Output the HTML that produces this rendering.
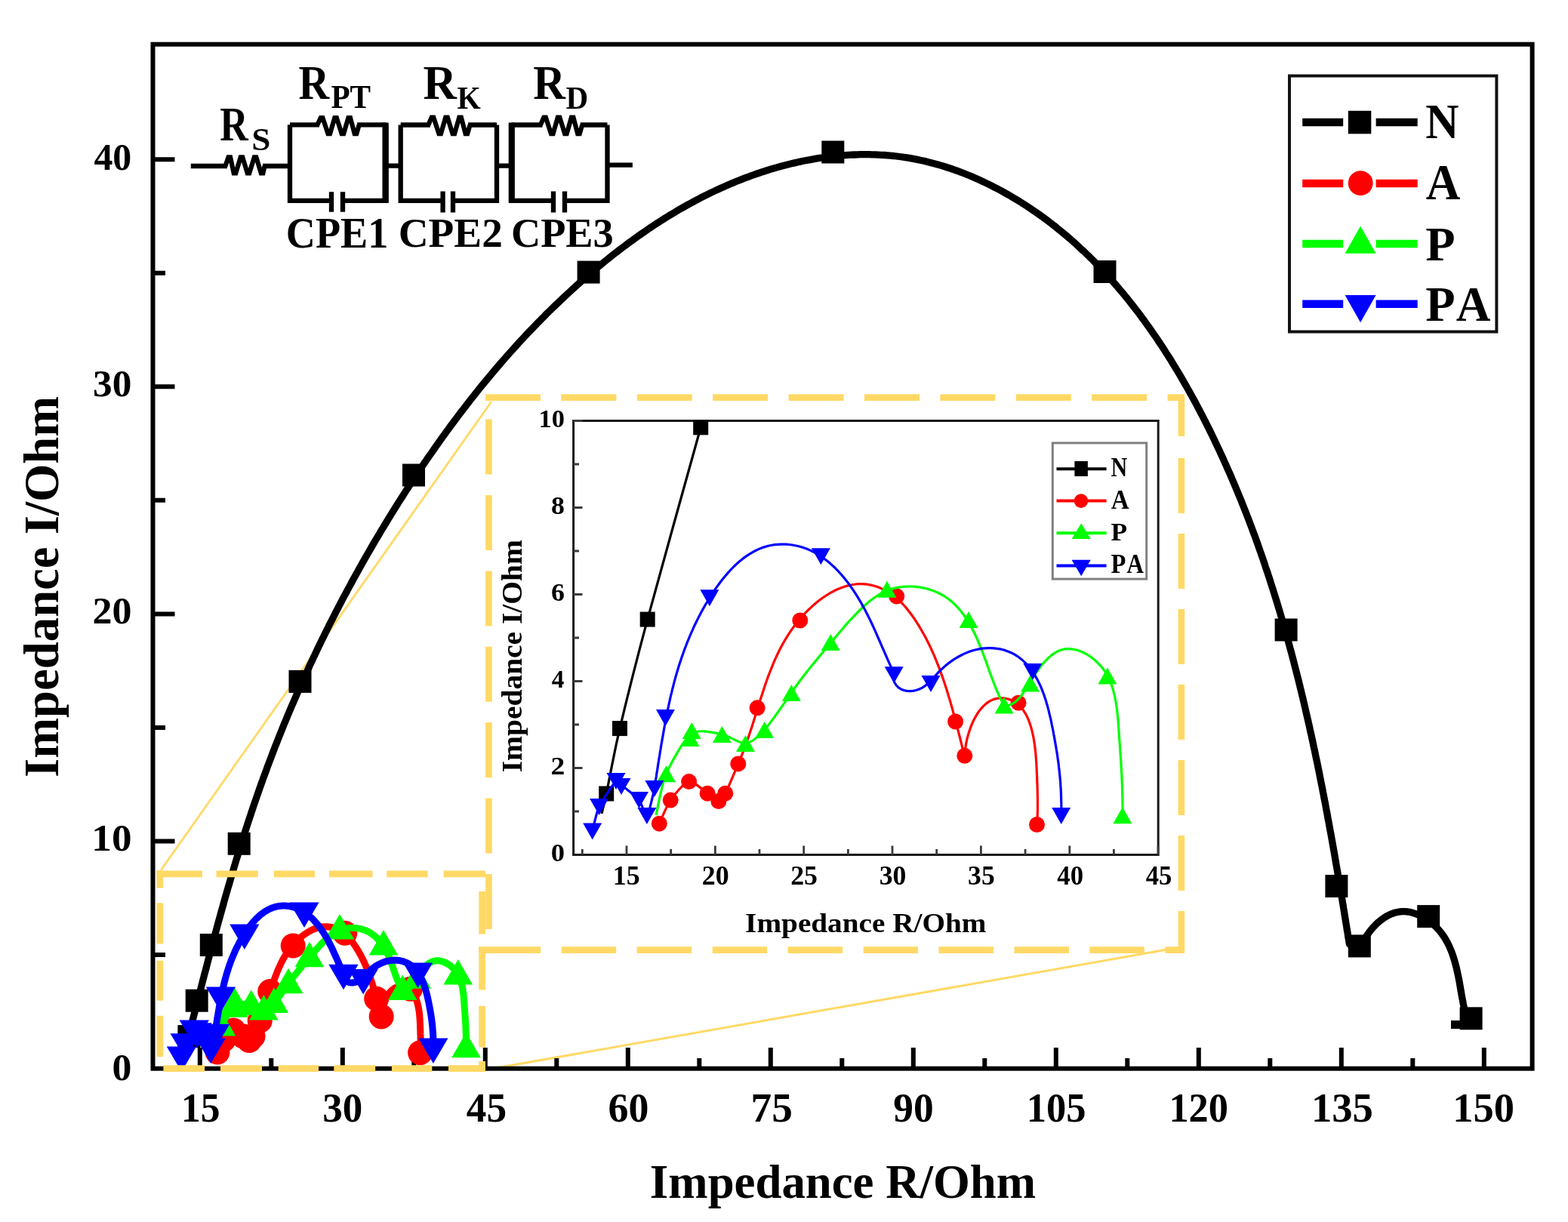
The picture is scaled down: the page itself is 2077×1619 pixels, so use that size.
<!DOCTYPE html><html><head><meta charset="utf-8"><style>html,body{margin:0;padding:0;background:#fff;}svg{display:block;} text{font-family:"Liberation Serif","Times New Roman",serif;font-weight:bold;}</style></head><body>
<svg width="2077" height="1619" viewBox="0 0 2077 1619">
<rect width="2077" height="1619" fill="#fff"/>
<line x1="213" y1="1153" x2="651" y2="532" stroke="#FFD966" stroke-width="2.8"/>
<line x1="640" y1="1418" x2="1563" y2="1255" stroke="#FFD966" stroke-width="3"/>
<rect x="202.5" y="58.7" width="1827.1" height="1357" fill="none" stroke="#000" stroke-width="6"/>
<path d="M264.8,1415.7V1388 M453.8,1415.7V1388 M642.8,1415.7V1388 M831.8,1415.7V1388 M1020.8,1415.7V1388 M1209.8,1415.7V1388 M1398.8,1415.7V1388 M1587.8,1415.7V1388 M1776.8,1415.7V1388 M1965.8,1415.7V1388 M359.3,1415.7V1402 M548.3,1415.7V1402 M737.3,1415.7V1402 M926.3,1415.7V1402 M1115.3,1415.7V1402 M1304.3,1415.7V1402 M1493.3,1415.7V1402 M1682.3,1415.7V1402 M1871.3,1415.7V1402 M202.5,1114.5H231.5 M202.5,813.4H231.5 M202.5,512.3H231.5 M202.5,211.2H231.5 M202.5,1265H219 M202.5,963.9H219 M202.5,662.8H219 M202.5,361.8H219" stroke="#000" stroke-width="6" fill="none"/>
<text transform="translate(239.98,1485.80) scale(0.9277,1)" font-size="55.45">15</text>
<text transform="translate(427.31,1485.80) scale(0.9645,1)" font-size="55.04">30</text>
<text transform="translate(617.83,1485.80) scale(0.9568,1)" font-size="55.67">45</text>
<text transform="translate(805.51,1485.80) scale(0.9795,1)" font-size="55.04">60</text>
<text transform="translate(994.52,1485.80) scale(0.9887,1)" font-size="55.88">75</text>
<text transform="translate(1183.33,1485.80) scale(0.9716,1)" font-size="55.04">90</text>
<text transform="translate(1359.70,1485.80) scale(0.9541,1)" font-size="55.04">105</text>
<text transform="translate(1548.40,1485.80) scale(0.9528,1)" font-size="55.04">120</text>
<text transform="translate(1736.93,1485.80) scale(0.9885,1)" font-size="55.25">135</text>
<text transform="translate(1924.14,1485.80) scale(0.9909,1)" font-size="55.04">150</text>
<text transform="translate(124.38,224.90) scale(0.9779,1)" font-size="51.13">40</text>
<text transform="translate(123.07,525.40) scale(1.0044,1)" font-size="51.13">30</text>
<text transform="translate(122.39,825.90) scale(1.0183,1)" font-size="51.13">20</text>
<text transform="translate(121.35,1127.00) scale(1.0394,1)" font-size="51.13">10</text>
<text transform="translate(148.56,1430.90) scale(1.0125,1)" font-size="51.13">0</text>
<text transform="translate(860.86,1586.80) scale(0.9991,1)" font-size="62.88">Impedance R/Ohm</text>
<text transform="translate(77.10,1030.00) rotate(-90) scale(0.9996,1)" font-size="64.75">Impedance I/Ohm</text>
<path d="M245.9,1388.1 L246.9,1384.2 L247.9,1380.3 L248.9,1376.4 L249.9,1372.5 L250.9,1368.6 L251.9,1364.7 L252.9,1360.8 L253.8,1357 L254.8,1353.1 L255.8,1349.2 L256.8,1345.3 L257.8,1341.4 L258.8,1337.5 L259.8,1333.6 L260.8,1329.7 L261.8,1325.9 L262.8,1322 L263.8,1318.1 L264.8,1314.2 L265.8,1310.3 L266.8,1306.4 L267.8,1302.6 L268.8,1298.7 L269.8,1294.8 L270.8,1290.9 L271.9,1287 L272.9,1283.2 L273.9,1279.3 L274.9,1275.4 L275.9,1271.5 L277,1267.6 L278,1263.8 L279,1259.9 L280,1256 L281.1,1252.2 L282.1,1248.3 L283.1,1244.4 L284.2,1240.6 L285.2,1236.7 L286.3,1232.8 L287.3,1229 L288.4,1225.1 L289.4,1221.2 L290.5,1217.4 L291.6,1213.5 L292.6,1209.7 L293.7,1205.8 L294.8,1201.9 L295.9,1198.1 L296.9,1194.2 L298,1190.4 L299.1,1186.5 L300.2,1182.7 L301.3,1178.8 L302.4,1175 L303.6,1171.2 L304.7,1167.3 L305.8,1163.5 L306.9,1159.6 L308.1,1155.8 L309.2,1152 L310.3,1148.1 L311.5,1144.3 L312.6,1140.5 L313.8,1136.6 L315,1132.8 L316.1,1129 L317.3,1125.2 L318.5,1121.4 L319.7,1117.5 L320.9,1113.7 L322.1,1109.9 L323.3,1106.1 L324.5,1102.3 L325.7,1098.5 L327,1094.7 L328.2,1090.9 L329.5,1087.1 L330.7,1083.3 L332,1079.5 L333.2,1075.7 L334.5,1071.9 L335.8,1068.1 L337.1,1064.3 L338.4,1060.5 L339.7,1056.7 L341,1053 L342.3,1049.2 L343.6,1045.4 L345,1041.6 L346.3,1037.9 L347.7,1034.1 L349,1030.3 L350.4,1026.6 L351.8,1022.8 L353.2,1019.1 L354.5,1015.3 L355.9,1011.6 L357.4,1007.8 L358.8,1004.1 L360.2,1000.3 L361.6,996.6 L363.1,992.8 L364.5,989.1 L366,985.4 L367.5,981.6 L368.9,977.9 L370.4,974.2 L371.9,970.5 L373.4,966.8 L374.9,963 L376.4,959.3 L378,955.6 L379.5,951.9 L381,948.2 L382.6,944.5 L384.1,940.8 L385.7,937.1 L387.3,933.4 L388.9,929.8 L390.5,926.1 L392.1,922.4 L393.7,918.7 L395.3,915 L396.9,911.4 L398.5,907.7 L400.2,904 L401.8,900.4 L403.5,896.7 L405.1,893.1 L406.8,889.4 L408.5,885.8 L410.1,882.1 L411.8,878.5 L413.5,874.9 L415.2,871.2 L417,867.6 L418.7,864 L420.4,860.3 L422.1,856.7 L423.9,853.1 L425.6,849.5 L427.4,845.9 L429.2,842.3 L430.9,838.7 L432.7,835.1 L434.5,831.5 L436.3,827.9 L438.1,824.3 L439.9,820.8 L441.8,817.2 L443.6,813.6 L445.4,810 L447.3,806.5 L449.1,802.9 L451,799.4 L452.8,795.8 L454.7,792.2 L456.6,788.7 L458.5,785.2 L460.4,781.6 L462.3,778.1 L464.2,774.6 L466.1,771 L468,767.5 L470,764 L471.9,760.5 L473.9,757 L475.8,753.5 L477.8,750 L479.7,746.5 L481.7,743 L483.7,739.5 L485.7,736 L487.7,732.5 L489.7,729.1 L491.7,725.6 L493.7,722.1 L495.7,718.7 L497.8,715.2 L499.8,711.8 L501.9,708.3 L503.9,704.9 L506,701.4 L508.1,698 L510.1,694.6 L512.2,691.2 L514.3,687.7 L516.4,684.3 L518.5,680.9 L520.6,677.5 L522.7,674.1 L524.8,670.7 L527,667.3 L529.1,663.9 L531.3,660.5 L533.4,657.2 L535.6,653.8 L537.7,650.4 L539.9,647.1 L542.1,643.7 L544.3,640.4 L546.5,637 L548.7,633.7 L550.9,630.3 L553.1,627 L555.3,623.7 L557.5,620.4 L559.8,617 L562,613.7 L564.3,610.4 L566.5,607.1 L568.8,603.8 L571.1,600.6 L573.4,597.3 L575.7,594 L578,590.7 L580.3,587.5 L582.6,584.2 L584.9,581 L587.2,577.7 L589.6,574.5 L591.9,571.2 L594.3,568 L596.6,564.8 L599,561.6 L601.4,558.4 L603.8,555.2 L606.2,552 L608.6,548.8 L611,545.6 L613.4,542.5 L615.9,539.3 L618.3,536.1 L620.8,533 L623.2,529.8 L625.7,526.7 L628.2,523.6 L630.6,520.4 L633.1,517.3 L635.6,514.2 L638.2,511.1 L640.7,508 L643.2,504.9 L645.8,501.9 L648.3,498.8 L650.9,495.7 L653.4,492.7 L656,489.6 L658.6,486.6 L661.2,483.6 L663.8,480.5 L666.4,477.5 L669.1,474.5 L671.7,471.5 L674.3,468.5 L677,465.5 L679.7,462.6 L682.4,459.6 L685,456.6 L687.7,453.7 L690.5,450.7 L693.2,447.8 L695.9,444.9 L698.6,442 L701.4,439.1 L704.2,436.2 L706.9,433.3 L709.7,430.4 L712.5,427.5 L715.3,424.7 L718.1,421.8 L721,419 L723.8,416.1 L726.6,413.3 L729.5,410.5 L732.4,407.7 L735.3,404.9 L738.2,402.1 L741.1,399.3 L744,396.6 L746.9,393.8 L749.8,391.1 L752.8,388.3 L755.8,385.6 L758.7,382.9 L761.7,380.2 L764.7,377.5 L767.7,374.8 L770.7,372.1 L773.8,369.4 L776.8,366.8 L779.9,364.2 L782.9,361.5 L786,358.9 L789.1,356.3 L792.2,353.7 L795.3,351.1 L798.4,348.6 L801.6,346 L804.7,343.5 L807.9,341 L811,338.4 L814.2,335.9 L817.4,333.5 L820.6,331 L823.8,328.6 L827.1,326.1 L830.3,323.7 L833.5,321.3 L836.8,318.9 L840.1,316.6 L843.3,314.2 L846.6,311.9 L849.9,309.6 L853.3,307.3 L856.6,305 L859.9,302.7 L863.3,300.5 L866.6,298.2 L870,296 L873.4,293.9 L876.8,291.7 L880.2,289.5 L883.6,287.4 L887,285.3 L890.5,283.2 L893.9,281.2 L897.4,279.1 L900.8,277.1 L904.3,275.1 L907.8,273.1 L911.3,271.2 L914.8,269.2 L918.3,267.3 L921.9,265.4 L925.4,263.6 L929,261.7 L932.5,259.9 L936.1,258.1 L939.7,256.3 L943.3,254.6 L946.9,252.9 L950.5,251.2 L954.2,249.5 L957.8,247.9 L961.5,246.3 L965.1,244.7 L968.8,243.1 L972.5,241.6 L976.2,240 L979.9,238.6 L983.6,237.1 L987.3,235.7 L991.1,234.3 L994.8,232.9 L998.6,231.6 L1002.3,230.2 L1006.1,229 L1009.9,227.7 L1013.7,226.5 L1017.5,225.3 L1021.3,224.1 L1025.2,223 L1029,221.9 L1032.9,220.8 L1036.7,219.7 L1040.6,218.7 L1044.5,217.7 L1048.4,216.8 L1052.3,215.9 L1056.2,215 L1060.1,214.1 L1064,213.3 L1068,212.5 L1071.9,211.8 L1075.9,211.1 L1079.8,210.4 L1083.8,209.7 L1087.7,209.1 L1091.7,208.6 L1095.7,208 L1099.7,207.5 L1103.6,207.1 L1107.6,206.7 L1111.6,206.3 L1115.6,205.9 L1119.6,205.6 L1123.6,205.4 L1127.6,205.2 L1131.6,205 L1135.6,204.8 L1139.6,204.7 L1143.6,204.7 L1147.6,204.7 L1151.6,204.7 L1155.6,204.8 L1159.6,204.9 L1163.6,205.1 L1167.5,205.3 L1171.5,205.5 L1175.5,205.8 L1179.5,206.2 L1183.4,206.5 L1187.4,207 L1191.4,207.5 L1195.3,208 L1199.3,208.6 L1203.2,209.2 L1207.1,209.9 L1211.1,210.6 L1215,211.4 L1218.9,212.2 L1222.8,213 L1226.7,213.9 L1230.6,214.9 L1234.5,215.9 L1238.3,216.9 L1242.2,218 L1246,219.1 L1249.9,220.3 L1253.7,221.5 L1257.5,222.7 L1261.3,224 L1265.1,225.3 L1268.9,226.7 L1272.6,228.1 L1276.4,229.5 L1280.1,231 L1283.9,232.5 L1287.6,234.1 L1291.3,235.7 L1294.9,237.3 L1298.6,239 L1302.3,240.7 L1305.9,242.4 L1309.5,244.1 L1313.1,245.9 L1316.7,247.8 L1320.3,249.6 L1323.9,251.5 L1327.4,253.4 L1330.9,255.4 L1334.4,257.3 L1337.9,259.3 L1341.4,261.4 L1344.8,263.4 L1348.3,265.5 L1351.7,267.6 L1355.1,269.8 L1358.4,271.9 L1361.8,274.1 L1365.1,276.3 L1368.4,278.6 L1371.7,280.8 L1375,283.1 L1378.2,285.4 L1381.5,287.8 L1384.7,290.1 L1387.9,292.5 L1391,294.9 L1394.2,297.4 L1397.3,299.8 L1400.4,302.3 L1403.5,304.8 L1406.6,307.3 L1409.7,309.9 L1412.7,312.4 L1415.7,315 L1418.7,317.6 L1421.7,320.2 L1424.7,322.9 L1427.6,325.6 L1430.5,328.3 L1433.4,331 L1436.3,333.7 L1439.2,336.5 L1442.1,339.2 L1444.9,342 L1447.7,344.8 L1450.5,347.6 L1453.3,350.5 L1456.1,353.4 L1458.8,356.2 L1461.5,359.1 L1464.2,362.1 L1466.9,365 L1469.6,368 L1472.3,370.9 L1474.9,373.9 L1477.5,376.9 L1480.2,379.9 L1482.7,383 L1485.3,386 L1487.9,389.1 L1490.4,392.2 L1493,395.3 L1495.5,398.4 L1498,401.6 L1500.4,404.7 L1502.9,407.9 L1505.3,411 L1507.8,414.2 L1510.2,417.4 L1512.6,420.7 L1515,423.9 L1517.3,427.1 L1519.7,430.4 L1522,433.7 L1524.3,437 L1526.6,440.3 L1528.9,443.6 L1531.2,446.9 L1533.5,450.2 L1535.7,453.6 L1537.9,456.9 L1540.2,460.3 L1542.4,463.7 L1544.5,467.1 L1546.7,470.5 L1548.9,473.9 L1551,477.3 L1553.1,480.8 L1555.2,484.2 L1557.3,487.7 L1559.4,491.1 L1561.5,494.6 L1563.6,498.1 L1565.6,501.6 L1567.6,505.1 L1569.6,508.6 L1571.7,512.1 L1573.6,515.6 L1575.6,519.1 L1577.6,522.7 L1579.5,526.2 L1581.5,529.8 L1583.4,533.3 L1585.3,536.9 L1587.2,540.5 L1589.1,544 L1590.9,547.6 L1592.8,551.2 L1594.7,554.8 L1596.5,558.4 L1598.3,562 L1600.1,565.6 L1601.9,569.2 L1603.7,572.9 L1605.5,576.5 L1607.2,580.1 L1609,583.8 L1610.7,587.4 L1612.4,591 L1614.2,594.7 L1615.9,598.3 L1617.5,602 L1619.2,605.6 L1620.9,609.3 L1622.5,613 L1624.2,616.6 L1625.8,620.3 L1627.4,624 L1629.1,627.6 L1630.7,631.3 L1632.2,635 L1633.8,638.7 L1635.4,642.4 L1636.9,646.1 L1638.5,649.8 L1640,653.5 L1641.5,657.2 L1643.1,660.9 L1644.6,664.6 L1646,668.3 L1647.5,672 L1649,675.8 L1650.5,679.5 L1651.9,683.2 L1653.4,686.9 L1654.8,690.7 L1656.2,694.4 L1657.6,698.2 L1659,701.9 L1660.4,705.7 L1661.8,709.4 L1663.2,713.2 L1664.5,716.9 L1665.9,720.7 L1667.2,724.4 L1668.5,728.2 L1669.9,732 L1671.2,735.8 L1672.5,739.5 L1673.8,743.3 L1675.1,747.1 L1676.3,750.9 L1677.6,754.7 L1678.9,758.4 L1680.1,762.2 L1681.4,766 L1682.6,769.8 L1683.8,773.6 L1685,777.4 L1686.3,781.2 L1687.4,785 L1688.6,788.9 L1689.8,792.7 L1691,796.5 L1692.2,800.3 L1693.3,804.1 L1694.5,808 L1695.6,811.8 L1696.7,815.6 L1697.9,819.4 L1699,823.3 L1700.1,827.1 L1701.2,831 L1702.3,834.8 L1703.4,838.6 L1704.4,842.5 L1705.5,846.3 L1706.6,850.2 L1707.6,854 L1708.7,857.9 L1709.7,861.7 L1710.8,865.6 L1711.8,869.5 L1712.8,873.3 L1713.8,877.2 L1714.8,881.1 L1715.8,884.9 L1716.8,888.8 L1717.8,892.7 L1718.8,896.6 L1719.8,900.4 L1720.7,904.3 L1721.7,908.2 L1722.6,912.1 L1723.6,916 L1724.5,919.9 L1725.5,923.7 L1726.4,927.6 L1727.3,931.5 L1728.2,935.4 L1729.1,939.3 L1730,943.2 L1730.9,947.1 L1731.8,951 L1732.7,954.9 L1733.6,958.8 L1734.5,962.7 L1735.3,966.7 L1736.2,970.6 L1737.1,974.5 L1737.9,978.4 L1738.8,982.3 L1739.6,986.2 L1740.4,990.1 L1741.3,994.1 L1742.1,998 L1742.9,1001.9 L1743.7,1005.8 L1744.6,1009.8 L1745.4,1013.7 L1746.2,1017.6 L1747,1021.5 L1747.8,1025.5 L1748.5,1029.4 L1749.3,1033.3 L1750.1,1037.3 L1750.9,1041.2 L1751.7,1045.1 L1752.4,1049.1 L1753.2,1053 L1753.9,1057 L1754.7,1060.9 L1755.5,1064.8 L1756.2,1068.8 L1756.9,1072.7 L1757.7,1076.7 L1758.4,1080.6 L1759.1,1084.6 L1759.9,1088.5 L1760.6,1092.5 L1761.3,1096.4 L1762,1100.4 L1762.8,1104.3 L1763.5,1108.3 L1764.2,1112.2 L1764.9,1116.2 L1765.6,1120.1 L1766.3,1124.1 L1767,1128 L1767.7,1132 L1768.4,1135.9 L1769,1139.9 L1769.7,1143.9 L1770.4,1147.8 L1771.1,1151.8 L1771.8,1155.7 L1772.4,1159.7 L1773.1,1163.7 L1773.8,1167.6 L1774.4,1171.6 L1775.1,1175.6 L1775.8,1179.5 L1776.4,1183.5 L1777.1,1187.4 L1777.8,1191.4 L1778.4,1195.4 L1779.1,1199.3 L1779.7,1203.3 L1780.4,1207.3 L1781,1211.2 L1781.7,1215.2 L1782.3,1219.2 L1782.9,1223.1 L1783.6,1227.1 L1784.2,1231.1 L1784.9,1235 L1785.5,1239 L1786.1,1243 L1786.8,1246.9 L1787.4,1250.9 L1800,1256 L1801.1,1257 L1802.7,1253.3 L1804.5,1249.6 L1806.5,1245.9 L1808.7,1242.2 L1811,1238.7 L1813.5,1235.2 L1816.2,1231.8 L1819,1228.5 L1822,1225.4 L1825.1,1222.4 L1828.3,1219.7 L1831.7,1217.2 L1835.1,1214.9 L1838.6,1212.9 L1842.2,1211.2 L1845.9,1209.8 L1849.6,1208.7 L1853.4,1208 L1857.3,1207.7 L1861.1,1207.7 L1865,1208 L1868.9,1208.7 L1872.7,1209.8 L1876.5,1211.1 L1880.3,1212.6 L1884,1214.5 L1887.6,1216.5 L1891.1,1218.8 L1894.5,1221.3 L1897.8,1224 L1900.9,1226.8 L1903.8,1229.8 L1906.6,1232.9 L1909.2,1236.1 L1911.6,1239.4 L1913.9,1242.9 L1915.9,1246.4 L1917.9,1250 L1919.7,1253.7 L1921.3,1257.5 L1922.9,1261.3 L1924.3,1265.2 L1925.6,1269.2 L1926.8,1273.1 L1927.9,1277.2 L1929,1281.3 L1929.9,1285.3 L1930.8,1289.5 L1931.7,1293.6 L1932.5,1297.7 L1933.3,1301.8 L1934,1306 L1934.7,1310.1 L1935.4,1314.1 L1936.1,1318.2 L1936.8,1322.2 L1937.6,1326.2 L1938.3,1330.1 L1939.1,1333.9 L1939.9,1337.7 L1940.8,1341.5" stroke="#000" stroke-width="9.3" fill="none" stroke-linejoin="round"/>
<rect x="235.4" y="1358.1" width="30" height="30" fill="#000"/>
<rect x="245.7" y="1310.7" width="30" height="30" fill="#000"/>
<rect x="264.8" y="1237" width="30" height="30" fill="#000"/>
<rect x="301.7" y="1102.8" width="30" height="30" fill="#000"/>
<rect x="382.5" y="887.9" width="30" height="30" fill="#000"/>
<rect x="533" y="614.5" width="30" height="30" fill="#000"/>
<rect x="764.6" y="345.6" width="30" height="30" fill="#000"/>
<rect x="1088.3" y="186.5" width="30" height="30" fill="#000"/>
<rect x="1448.5" y="345" width="30" height="30" fill="#000"/>
<rect x="1688.6" y="819.5" width="30" height="30" fill="#000"/>
<rect x="1755.4" y="1159" width="30" height="30" fill="#000"/>
<rect x="1785.8" y="1238.4" width="30" height="30" fill="#000"/>
<rect x="1877.2" y="1199.1" width="30" height="30" fill="#000"/>
<rect x="1933.6" y="1334.3" width="30" height="30" fill="#000"/>
<rect x="1922" y="1352" width="26" height="11" fill="#000"/>
<path d="M288,1394 C289.1,1391.8 293.2,1381.6 296,1377.7 C298.9,1373.8 305.6,1365.5 309.1,1364.9 C312.6,1364.2 319.5,1371.2 322.3,1373 C325.1,1374.8 328.6,1378.5 330.2,1378.5 C331.9,1378.5 333.2,1376.5 335,1373 C336.9,1369.6 342.9,1355.2 344.2,1352.4 L344.1,1352.5 L345.8,1348.7 L347.3,1344.9 L348.8,1341 L350.2,1337.2 L351.6,1333.3 L352.9,1329.4 L354.2,1325.5 L355.5,1321.6 L356.8,1317.7 L358,1313.8 L359.3,1309.9 L360.5,1306 L361.8,1302.2 L363.2,1298.3 L364.5,1294.5 L366,1290.7 L367.4,1287 L369,1283.2 L370.7,1279.6 L372.4,1275.9 L374.2,1272.3 L376.2,1268.8 L378.3,1265.3 L380.5,1261.9 L382.9,1258.5 L385.4,1255.2 L388.1,1252 L390.9,1248.9 L393.9,1245.8 L397,1242.9 L400.3,1240.2 L403.7,1237.7 L407.2,1235.4 L410.8,1233.3 L414.4,1231.5 L418.2,1230 L421.9,1228.9 L425.8,1228.1 L429.6,1227.7 L433.4,1227.7 L437.3,1228.2 L441.1,1229 L444.9,1230.3 L448.5,1232 L452,1234 L455.3,1236.3 L458.5,1239 L461.4,1241.9 L464.2,1245 L466.8,1248.2 L469.3,1251.6 L471.6,1255.1 L473.8,1258.6 L475.9,1262.2 L477.9,1265.8 L479.8,1269.5 L481.6,1273.2 L483.3,1276.9 L485,1280.7 L486.5,1284.5 L488,1288.3 L489.4,1292.1 L490.7,1295.9 L492,1299.8 L493.3,1303.6 L494.4,1307.5 L495.6,1311.4 L496.7,1315.2 L497.8,1319.2 L498.9,1323.1 L499.9,1327 L501,1331 L502,1334.9 L503,1338.9 L504.1,1342.9 L505.2,1346.9 L505.4,1346.9 L505.5,1343.3 L506,1339.4 L506.9,1335.2 L508.2,1330.8 L509.8,1326.4 L511.7,1322.1 L514,1318.1 L516.6,1314.5 L519.6,1311.5 L522.8,1309.1 L526.4,1307.5 L530.2,1306.9 L534,1307 L537.8,1308 L541.3,1309.8 L544.4,1312.2 L547,1315.3 L549.2,1318.9 L551,1323 L552.4,1327.2 L553.6,1331.6 L554.5,1336 L555.2,1340.4 L555.7,1344.6 L556,1348.8 L556.3,1352.9 L556.5,1357 L556.6,1361.1 L556.8,1365.3 L556.9,1369.4 L557.1,1373.5 L557.1,1377.7 L557.1,1381.9 L557.1,1386.1 L556.9,1390.4 L556.6,1394.7" stroke="#FF0000" stroke-width="9" fill="none" stroke-linejoin="round" stroke-linecap="round"/>
<circle cx="288" cy="1394" r="16.5" fill="#FF0000"/>
<circle cx="296" cy="1377.7" r="16.5" fill="#FF0000"/>
<circle cx="309.1" cy="1364.9" r="16.5" fill="#FF0000"/>
<circle cx="322.3" cy="1373" r="16.5" fill="#FF0000"/>
<circle cx="330.2" cy="1378.5" r="16.5" fill="#FF0000"/>
<circle cx="335" cy="1373" r="16.5" fill="#FF0000"/>
<circle cx="344.2" cy="1352.4" r="16.5" fill="#FF0000"/>
<circle cx="357.7" cy="1313.6" r="16.5" fill="#FF0000"/>
<circle cx="388.2" cy="1253" r="16.5" fill="#FF0000"/>
<circle cx="456.8" cy="1236.2" r="16.5" fill="#FF0000"/>
<circle cx="498.7" cy="1323.2" r="16.5" fill="#FF0000"/>
<circle cx="505.2" cy="1346.9" r="16.5" fill="#FF0000"/>
<circle cx="543.5" cy="1310.2" r="16.5" fill="#FF0000"/>
<circle cx="556.6" cy="1394.7" r="16.5" fill="#FF0000"/>
<path d="M285.7,1388.1 C286.7,1384.3 289.6,1366.9 293,1359.4 C296.4,1351.9 305.7,1335.2 311,1331.5 C316.3,1327.9 327.5,1331.2 332.7,1332.1 C337.8,1333 345.3,1338.8 349.4,1338.4 C353.4,1337.9 358.5,1333.6 362.9,1328.9 C367.2,1324.2 379.5,1306.7 382,1303.3 L382,1303.2 L384.4,1299.9 L386.9,1296.6 L389.4,1293.4 L391.9,1290.2 L394.5,1287 L397,1283.9 L399.6,1280.8 L402.2,1277.6 L404.8,1274.5 L407.4,1271.4 L410.1,1268.2 L412.7,1265.1 L415.4,1261.9 L418.2,1258.7 L420.9,1255.6 L423.8,1252.5 L426.7,1249.5 L429.7,1246.6 L432.8,1243.8 L436,1241.1 L439.3,1238.6 L442.7,1236.3 L446.2,1234.3 L449.9,1232.6 L453.7,1231.2 L457.7,1230.2 L461.7,1229.6 L465.7,1229.4 L469.8,1229.5 L473.9,1229.9 L477.8,1230.7 L481.7,1231.9 L485.5,1233.3 L489.1,1235.1 L492.5,1237.3 L495.7,1239.7 L498.7,1242.4 L501.5,1245.4 L504.1,1248.5 L506.6,1251.9 L508.9,1255.4 L511,1259.1 L512.9,1262.8 L514.7,1266.6 L516.3,1270.5 L517.8,1274.3 L519.2,1278.2 L520.6,1282.1 L521.9,1286 L523.2,1289.8 L524.5,1293.6 L526,1297.4 L527.5,1301.1 L529.3,1304.8 L531.2,1308.4 L533.3,1311.9 L533.9,1312.3 L537.5,1311.6 L540.6,1309.9 L543.4,1307.5 L545.9,1304.6 L548.3,1301.2 L550.6,1297.6 L553,1293.8 L555.5,1290.1 L558.1,1286.5 L560.9,1283.1 L563.8,1280 L566.8,1277.3 L570,1275.2 L573.4,1273.6 L576.9,1272.8 L580.6,1272.7 L584.4,1273.4 L588.2,1274.6 L591.9,1276.4 L595.4,1278.6 L598.7,1281.3 L601.7,1284.2 L604.2,1287.4 L606.4,1290.9 L608.3,1294.5 L609.8,1298.3 L611,1302.2 L612.1,1306.2 L612.9,1310.4 L613.5,1314.5 L614,1318.8 L614.4,1323 L614.7,1327.2 L615,1331.4 L615.3,1335.5 L615.6,1339.6 L615.9,1343.6 L616.2,1347.6 L616.4,1351.6 L616.7,1355.5 L616.9,1359.5 L617,1363.5 L617.2,1367.5 L617.3,1371.6 L617.4,1375.7 L617.5,1379.8 L617.5,1384 L617.5,1388.3" stroke="#00FF00" stroke-width="9" fill="none" stroke-linejoin="round" stroke-linecap="round"/>
<polygon points="293,1339 312.2,1372.5 273.7,1372.5" fill="#00FF00"/>
<polygon points="311.1,1309 330.4,1342.5 291.9,1342.5" fill="#00FF00"/>
<polygon points="309.9,1314.2 329.1,1347.7 290.6,1347.7" fill="#00FF00"/>
<polygon points="332.7,1311.6 351.9,1345.1 313.4,1345.1" fill="#00FF00"/>
<polygon points="349.4,1317.9 368.6,1351.4 330.1,1351.4" fill="#00FF00"/>
<polygon points="362.9,1308.5 382.1,1342 343.6,1342" fill="#00FF00"/>
<polygon points="382,1282.8 401.3,1316.3 362.8,1316.3" fill="#00FF00"/>
<polygon points="409.9,1247.7 429.1,1281.2 390.6,1281.2" fill="#00FF00"/>
<polygon points="450,1210.9 469.2,1244.4 430.7,1244.4" fill="#00FF00"/>
<polygon points="508,1232 527.3,1265.5 488.8,1265.5" fill="#00FF00"/>
<polygon points="533.3,1291.5 552.6,1325 514.1,1325" fill="#00FF00"/>
<polygon points="551.8,1276.3 571.1,1309.8 532.6,1309.8" fill="#00FF00"/>
<polygon points="606.8,1271.1 626,1304.6 587.5,1304.6" fill="#00FF00"/>
<polygon points="617.5,1367.8 636.7,1401.3 598.2,1401.3" fill="#00FF00"/>
<path d="M240.5,1399.4 C241.1,1397.1 243,1387 245.3,1382.3 C247.5,1377.7 255.2,1366.6 257.3,1364.5 C259.4,1362.5 258.9,1365.4 261,1367.2 C263.2,1368.9 271.2,1374.8 273.7,1377.6 C276.1,1380.5 277.8,1389.7 279.2,1388.6 C280.7,1387.6 283.9,1372.3 284.6,1369.8 L284.5,1369.8 L285.2,1365.7 L285.8,1361.5 L286.5,1357.4 L287.2,1353.3 L287.8,1349.2 L288.5,1345.2 L289.2,1341.1 L289.9,1337.1 L290.6,1333 L291.3,1329 L292,1325 L292.8,1321.1 L293.6,1317.1 L294.5,1313.1 L295.3,1309.2 L296.3,1305.3 L297.2,1301.4 L298.2,1297.5 L299.3,1293.6 L300.4,1289.7 L301.6,1285.9 L302.8,1282.1 L304.1,1278.3 L305.5,1274.5 L306.9,1270.7 L308.5,1266.9 L310.1,1263.2 L311.7,1259.4 L313.5,1255.7 L315.4,1252 L317.3,1248.3 L319.4,1244.7 L321.5,1241 L323.8,1237.4 L326.1,1233.8 L328.6,1230.3 L331.1,1226.9 L333.8,1223.5 L336.6,1220.3 L339.4,1217.3 L342.4,1214.4 L345.5,1211.7 L348.7,1209.3 L352,1207.1 L355.4,1205.1 L358.9,1203.5 L362.5,1202.1 L366.2,1201.1 L370,1200.4 L373.9,1200.1 L377.8,1200.1 L381.8,1200.5 L385.7,1201.1 L389.6,1202.1 L393.3,1203.5 L397,1205.1 L400.6,1207 L404.1,1209.2 L407.4,1211.7 L410.6,1214.4 L413.7,1217.2 L416.6,1220.2 L419.4,1223.4 L422.1,1226.7 L424.6,1230.1 L427,1233.5 L429.3,1237 L431.5,1240.6 L433.6,1244.2 L435.5,1247.9 L437.4,1251.6 L439.3,1255.3 L441,1259 L442.7,1262.8 L444.4,1266.5 L446.1,1270.2 L447.7,1273.9 L449.3,1277.6 L451,1281.2 L452.6,1284.8 L454.3,1288.3 L454,1288.4 L454.5,1293.8 L456.4,1297.7 L459.4,1300.4 L463.1,1301.8 L467.2,1302 L471.5,1301.2 L475.6,1299.3 L479.2,1296.6 L482,1293 L482.5,1293.6 L485.1,1290.6 L488,1287.6 L491.2,1284.8 L494.6,1282.2 L498.1,1279.7 L501.9,1277.6 L505.8,1275.7 L509.8,1274.2 L513.8,1273.1 L517.9,1272.4 L522.1,1272.1 L526.1,1272.2 L530.1,1272.8 L534,1273.7 L537.7,1275.1 L541.2,1276.8 L544.5,1279 L547.5,1281.6 L550.3,1284.4 L552.8,1287.6 L555.1,1290.9 L557.1,1294.5 L559,1298.2 L560.7,1302.2 L562.1,1306.2 L563.5,1310.3 L564.7,1314.5 L565.8,1318.8 L566.8,1323 L567.7,1327.3 L568.5,1331.5 L569.3,1335.6 L570,1339.6 L570.7,1343.7 L571.3,1347.7 L571.9,1351.6 L572.3,1355.6 L572.8,1359.6 L573.1,1363.6 L573.4,1367.6 L573.7,1371.7 L573.8,1375.8 L573.9,1380.1 L574,1384.4 L573.9,1388.7" stroke="#0000FF" stroke-width="9" fill="none" stroke-linejoin="round" stroke-linecap="round"/>
<polygon points="220.8,1386.4 260.1,1386.4 240.5,1419.9" fill="#0000FF"/>
<polygon points="225.6,1369.3 264.9,1369.3 245.3,1402.8" fill="#0000FF"/>
<polygon points="237.6,1351.5 276.9,1351.5 257.3,1385" fill="#0000FF"/>
<polygon points="241.4,1355.2 280.7,1355.2 261,1388.7" fill="#0000FF"/>
<polygon points="254,1364.6 293.3,1364.6 273.7,1398.1" fill="#0000FF"/>
<polygon points="259.6,1375.6 298.9,1375.6 279.2,1409.1" fill="#0000FF"/>
<polygon points="265,1356.7 304.3,1356.7 284.6,1390.2" fill="#0000FF"/>
<polygon points="272.8,1307.5 312.1,1307.5 292.5,1341" fill="#0000FF"/>
<polygon points="304.2,1224.4 343.5,1224.4 323.8,1257.9" fill="#0000FF"/>
<polygon points="383.3,1195.6 422.6,1195.6 403,1229.1" fill="#0000FF"/>
<polygon points="435.3,1277.8 474.6,1277.8 455,1311.3" fill="#0000FF"/>
<polygon points="461.5,1283.9 500.8,1283.9 481.2,1317.4" fill="#0000FF"/>
<polygon points="533.9,1275.6 573.2,1275.6 553.6,1309.1" fill="#0000FF"/>
<polygon points="554.2,1375.6 593.5,1375.6 573.9,1409.1" fill="#0000FF"/>
<rect x="759.6" y="557.5" width="774.6" height="575" fill="#fff" stroke="#1a1a1a" stroke-width="3"/>
<path d="M830,1132.5V1120.5 M947.4,1132.5V1120.5 M1064.7,1132.5V1120.5 M1182,1132.5V1120.5 M1299.4,1132.5V1120.5 M1416.8,1132.5V1120.5 M1534.1,1132.5V1120.5 M771.3,1132.5V1125 M888.7,1132.5V1125 M1006,1132.5V1125 M1123.4,1132.5V1125 M1240.7,1132.5V1125 M1358.1,1132.5V1125 M1475.4,1132.5V1125 M759.6,1017.5H771.5 M759.6,902.5H771.5 M759.6,787.5H771.5 M759.6,672.5H771.5 M759.6,557.5H771.5 M759.6,1075H767 M759.6,960H767 M759.6,845H767 M759.6,730H767 M759.6,615H767" stroke="#3a3a3a" stroke-width="2.8" fill="none"/>
<text transform="translate(811.78,1171.70) scale(1.0088,1)" font-size="35.61">15</text>
<text transform="translate(929.83,1171.70) scale(1.0150,1)" font-size="35.34">20</text>
<text transform="translate(1047.18,1171.70) scale(1.0112,1)" font-size="35.47">25</text>
<text transform="translate(1164.71,1171.70) scale(1.0095,1)" font-size="35.34">30</text>
<text transform="translate(1282.06,1171.70) scale(1.0058,1)" font-size="35.47">35</text>
<text transform="translate(1400.32,1171.70) scale(0.9830,1)" font-size="35.34">40</text>
<text transform="translate(1517.67,1171.70) scale(0.9719,1)" font-size="35.74">45</text>
<text transform="translate(729.82,1141.20) scale(1.0897,1)" font-size="33.68">0</text>
<text transform="translate(729.60,1026.20) scale(1.1118,1)" font-size="33.81">2</text>
<text transform="translate(730.79,911.20) scale(0.9743,1)" font-size="34.07">4</text>
<text transform="translate(729.94,796.20) scale(1.0607,1)" font-size="33.81">6</text>
<text transform="translate(730.03,681.20) scale(1.0647,1)" font-size="33.68">8</text>
<text transform="translate(713.54,566.20) scale(1.0260,1)" font-size="33.68">10</text>
<text transform="translate(987.12,1234.50) scale(1.0863,1)" font-size="36.12">Impedance R/Ohm</text>
<text transform="translate(690.70,1023.28) rotate(-90) scale(1.0437,1)" font-size="37.84">Impedance I/Ohm</text>
<path d="M797,1078 C797.8,1074.5 800,1066.6 803.2,1051.5 C806.4,1036.4 813.7,995.9 821,965.1 C828.3,934.3 843.4,873.8 857.7,820.6 C872,767.4 918.8,600.2 928.2,566.3" stroke="#000" stroke-width="3.2" fill="none" stroke-linejoin="round"/>
<rect x="793.2" y="1041.5" width="20" height="20" fill="#000"/>
<rect x="811" y="955.1" width="20" height="20" fill="#000"/>
<rect x="847.7" y="810.6" width="20" height="20" fill="#000"/>
<rect x="918.2" y="556.3" width="20" height="20" fill="#000"/>
<path d="M873.3,1091.2 C875.3,1087.1 883,1067.5 888.2,1060.1 C893.4,1052.7 906.1,1036.8 912.6,1035.6 C919.1,1034.4 931.9,1047.7 937.1,1051.2 C942.3,1054.7 948.7,1061.6 951.9,1061.6 C955.1,1061.6 957.3,1057.8 960.8,1051.2 C964.3,1044.6 975.5,1017.1 977.8,1011.9 L977.7,1011.9 L979.3,1008.2 L980.9,1004.4 L982.5,1000.7 L984,996.9 L985.4,993.1 L986.9,989.3 L988.3,985.5 L989.6,981.7 L991,977.8 L992.3,974 L993.5,970.2 L994.8,966.3 L996.1,962.5 L997.3,958.6 L998.5,954.8 L999.7,950.9 L1000.9,947.1 L1002.1,943.2 L1003.3,939.4 L1004.5,935.5 L1005.7,931.7 L1006.9,927.8 L1008.1,924 L1009.4,920.2 L1010.6,916.4 L1011.9,912.5 L1013.1,908.8 L1014.4,905 L1015.8,901.2 L1017.1,897.4 L1018.5,893.7 L1019.9,890 L1021.4,886.3 L1022.9,882.6 L1024.4,878.9 L1026,875.2 L1027.6,871.6 L1029.3,868 L1031,864.4 L1032.8,860.8 L1034.6,857.3 L1036.5,853.8 L1038.5,850.3 L1040.5,846.8 L1042.6,843.4 L1044.8,840 L1047,836.6 L1049.3,833.3 L1051.7,830 L1054.2,826.7 L1056.7,823.5 L1059.4,820.3 L1062.1,817.1 L1064.9,814 L1067.8,811 L1070.8,808 L1073.9,805.1 L1077,802.2 L1080.2,799.5 L1083.4,796.8 L1086.7,794.3 L1090.1,791.8 L1093.5,789.5 L1097,787.3 L1100.5,785.2 L1104,783.3 L1107.6,781.5 L1111.2,779.9 L1114.9,778.5 L1118.6,777.2 L1122.3,776.1 L1126,775.2 L1129.8,774.5 L1133.5,774 L1137.3,773.7 L1141.1,773.7 L1144.9,773.8 L1148.7,774.2 L1152.4,774.9 L1156.2,775.7 L1159.9,776.8 L1163.6,778.1 L1167.2,779.6 L1170.8,781.2 L1174.3,783.1 L1177.7,785.1 L1181.1,787.3 L1184.3,789.7 L1187.4,792.3 L1190.5,794.9 L1193.4,797.8 L1196.2,800.7 L1199,803.8 L1201.6,806.9 L1204.2,810.2 L1206.7,813.5 L1209.1,816.8 L1211.4,820.2 L1213.7,823.7 L1215.9,827.1 L1218.1,830.6 L1220.2,834.2 L1222.2,837.7 L1224.2,841.3 L1226.2,844.9 L1228,848.5 L1229.9,852.2 L1231.6,855.8 L1233.4,859.5 L1235,863.2 L1236.7,866.9 L1238.3,870.6 L1239.8,874.4 L1241.3,878.1 L1242.8,881.9 L1244.3,885.6 L1245.7,889.4 L1247,893.1 L1248.4,896.9 L1249.7,900.7 L1251,904.5 L1252.2,908.2 L1253.4,912 L1254.6,915.8 L1255.8,919.7 L1256.9,923.5 L1258.1,927.3 L1259.2,931.1 L1260.3,935 L1261.4,938.8 L1262.4,942.7 L1263.5,946.5 L1264.5,950.4 L1265.6,954.3 L1266.6,958.2 L1267.6,962 L1268.6,965.9 L1269.6,969.9 L1270.6,973.8 L1271.6,977.7 L1272.6,981.6 L1273.6,985.6 L1274.6,989.5 L1275.6,993.5 L1276.6,997.4 L1277.7,1001.4 L1278,1001.2 L1278.1,998 L1278.4,994.4 L1278.8,990.7 L1279.4,986.7 L1280.2,982.6 L1281.1,978.4 L1282.3,974.1 L1283.6,969.8 L1285.1,965.4 L1286.7,961.1 L1288.5,956.9 L1290.5,952.8 L1292.7,948.8 L1295,945 L1297.5,941.4 L1300.2,938.1 L1303,935.1 L1306,932.4 L1309.1,930.1 L1312.4,928.1 L1315.9,926.6 L1319.5,925.6 L1323.2,925 L1326.9,924.9 L1330.7,925.2 L1334.4,925.9 L1338,927 L1341.5,928.5 L1344.9,930.3 L1348,932.6 L1350.8,935.2 L1353.5,938.1 L1355.8,941.4 L1358,944.8 L1360,948.5 L1361.8,952.4 L1363.4,956.5 L1364.8,960.6 L1366.1,964.9 L1367.2,969.2 L1368.2,973.6 L1369.1,977.9 L1369.8,982.2 L1370.5,986.5 L1371,990.6 L1371.5,994.8 L1371.9,998.9 L1372.2,1003 L1372.5,1007 L1372.8,1011 L1373,1015 L1373.2,1019 L1373.3,1023 L1373.5,1027 L1373.7,1031 L1373.8,1035.1 L1374,1039.1 L1374.1,1043.1 L1374.2,1047.2 L1374.3,1051.2 L1374.4,1055.3 L1374.5,1059.4 L1374.5,1063.5 L1374.5,1067.6 L1374.5,1071.7 L1374.4,1075.9 L1374.2,1080 L1374.1,1084.2 L1373.8,1088.4 L1373.6,1092.6" stroke="#FF0000" stroke-width="3.2" fill="none" stroke-linejoin="round"/>
<circle cx="873.3" cy="1091.2" r="10.5" fill="#FF0000"/>
<circle cx="888.2" cy="1060.1" r="10.5" fill="#FF0000"/>
<circle cx="912.6" cy="1035.6" r="10.5" fill="#FF0000"/>
<circle cx="937.1" cy="1051.2" r="10.5" fill="#FF0000"/>
<circle cx="951.9" cy="1061.6" r="10.5" fill="#FF0000"/>
<circle cx="960.8" cy="1051.2" r="10.5" fill="#FF0000"/>
<circle cx="977.8" cy="1011.9" r="10.5" fill="#FF0000"/>
<circle cx="1003.1" cy="937.8" r="10.5" fill="#FF0000"/>
<circle cx="1059.8" cy="822" r="10.5" fill="#FF0000"/>
<circle cx="1187.7" cy="790" r="10.5" fill="#FF0000"/>
<circle cx="1265.6" cy="956" r="10.5" fill="#FF0000"/>
<circle cx="1277.8" cy="1001.3" r="10.5" fill="#FF0000"/>
<circle cx="1349" cy="931.2" r="10.5" fill="#FF0000"/>
<circle cx="1373.5" cy="1092.5" r="10.5" fill="#FF0000"/>
<path d="M869,1080 C870.8,1072.7 876.2,1039.6 882.5,1025.2 C888.8,1010.8 906.1,979 916,972 C925.9,965 946.9,971.3 956.4,973 C965.9,974.7 980,985.8 987.5,985 C995,984.2 1004.6,975.9 1012.7,967 C1020.8,958.1 1043.6,924.5 1048.3,918 L1048.2,917.9 L1050.6,914.5 L1052.9,911.1 L1055.3,907.8 L1057.7,904.5 L1060.1,901.3 L1062.6,898.1 L1065,894.9 L1067.5,891.7 L1070,888.6 L1072.4,885.4 L1075,882.3 L1077.5,879.2 L1080,876.1 L1082.6,873.1 L1085.1,870 L1087.7,866.9 L1090.3,863.8 L1092.8,860.8 L1095.4,857.7 L1098,854.6 L1100.6,851.5 L1103.2,848.4 L1105.8,845.2 L1108.5,842.1 L1111.1,838.9 L1113.7,835.8 L1116.4,832.7 L1119.1,829.5 L1121.8,826.4 L1124.6,823.3 L1127.3,820.3 L1130.2,817.3 L1133,814.3 L1135.9,811.3 L1138.8,808.4 L1141.8,805.5 L1144.8,802.7 L1147.9,800 L1151,797.3 L1154.3,794.8 L1157.5,792.3 L1160.9,790 L1164.3,787.9 L1167.8,785.9 L1171.4,784.1 L1175,782.5 L1178.8,781.1 L1182.6,779.9 L1186.5,778.9 L1190.5,778.1 L1194.5,777.5 L1198.6,777.2 L1202.7,777 L1206.8,777 L1210.9,777.2 L1215,777.6 L1219,778.1 L1223,778.9 L1227,779.8 L1230.9,780.9 L1234.8,782.2 L1238.6,783.6 L1242.2,785.2 L1245.8,787 L1249.3,788.9 L1252.6,791 L1255.8,793.2 L1258.8,795.6 L1261.8,798.1 L1264.6,800.7 L1267.4,803.5 L1270,806.4 L1272.5,809.3 L1274.9,812.4 L1277.3,815.6 L1279.5,818.9 L1281.7,822.3 L1283.8,825.8 L1285.8,829.3 L1287.7,832.9 L1289.6,836.6 L1291.4,840.3 L1293.2,844.1 L1294.9,847.9 L1296.5,851.8 L1298.1,855.7 L1299.7,859.6 L1301.2,863.5 L1302.7,867.5 L1304.2,871.5 L1305.7,875.4 L1307.1,879.4 L1308.5,883.3 L1309.9,887.3 L1311.3,891.2 L1312.7,895.1 L1314.2,898.9 L1315.6,902.7 L1317,906.5 L1318.5,910.2 L1320,913.8 L1321.5,917.4 L1323,920.9 L1324.6,924.3 L1326.2,927.6 L1327.8,930.9 L1329.5,934 L1331.2,935.3 L1334.9,934.7 L1338.3,933.7 L1341.4,932.2 L1344.4,930.3 L1347.1,928 L1349.7,925.4 L1352.2,922.5 L1354.5,919.3 L1356.8,915.9 L1359,912.4 L1361.3,908.7 L1363.6,905 L1365.9,901.3 L1368.3,897.5 L1370.8,893.8 L1373.3,890.1 L1375.8,886.5 L1378.5,883 L1381.2,879.6 L1384,876.5 L1386.9,873.5 L1389.8,870.7 L1392.8,868.1 L1395.9,865.9 L1399.1,863.9 L1402.4,862.3 L1405.8,861.1 L1409.3,860.2 L1412.8,859.7 L1416.5,859.7 L1420.1,860 L1423.9,860.6 L1427.6,861.6 L1431.3,862.9 L1435,864.5 L1438.6,866.4 L1442.1,868.5 L1445.6,870.9 L1448.9,873.4 L1452,876.2 L1455,879.1 L1457.8,882.1 L1460.4,885.3 L1462.8,888.5 L1464.9,891.9 L1466.9,895.4 L1468.8,899 L1470.4,902.7 L1471.9,906.4 L1473.3,910.3 L1474.5,914.2 L1475.5,918.1 L1476.5,922.1 L1477.3,926.2 L1478.1,930.3 L1478.8,934.4 L1479.3,938.5 L1479.9,942.7 L1480.3,946.9 L1480.7,951.1 L1481.1,955.2 L1481.4,959.4 L1481.7,963.6 L1482,967.7 L1482.2,971.8 L1482.5,975.9 L1482.8,980 L1483.1,984 L1483.4,988 L1483.7,992 L1483.9,995.9 L1484.2,999.9 L1484.5,1003.8 L1484.7,1007.8 L1485,1011.7 L1485.2,1015.6 L1485.4,1019.6 L1485.6,1023.5 L1485.9,1027.4 L1486,1031.4 L1486.2,1035.3 L1486.4,1039.3 L1486.5,1043.3 L1486.6,1047.3 L1486.7,1051.3 L1486.8,1055.4 L1486.9,1059.5 L1486.9,1063.6 L1487,1067.7 L1487,1071.9 L1486.9,1076.1 L1486.9,1080.4" stroke="#00FF00" stroke-width="3.2" fill="none" stroke-linejoin="round"/>
<polygon points="882.5,1014.2 895,1036.2 870,1036.2" fill="#00FF00"/>
<polygon points="916.3,957 928.8,979 903.8,979" fill="#00FF00"/>
<polygon points="914,967 926.5,989 901.5,989" fill="#00FF00"/>
<polygon points="956.4,962 968.9,984 943.9,984" fill="#00FF00"/>
<polygon points="987.5,974 1000,996 975,996" fill="#00FF00"/>
<polygon points="1012.7,956 1025.2,978 1000.2,978" fill="#00FF00"/>
<polygon points="1048.3,907 1060.8,929 1035.8,929" fill="#00FF00"/>
<polygon points="1100.2,840 1112.7,862 1087.7,862" fill="#00FF00"/>
<polygon points="1174.9,769.7 1187.4,791.7 1162.4,791.7" fill="#00FF00"/>
<polygon points="1283,810 1295.5,832 1270.5,832" fill="#00FF00"/>
<polygon points="1330.1,923.6 1342.6,945.6 1317.6,945.6" fill="#00FF00"/>
<polygon points="1364.6,894.6 1377.1,916.6 1352.1,916.6" fill="#00FF00"/>
<polygon points="1466.9,884.6 1479.4,906.6 1454.4,906.6" fill="#00FF00"/>
<polygon points="1486.9,1069.2 1499.4,1091.2 1474.4,1091.2" fill="#00FF00"/>
<path d="M784.7,1101.6 C785.9,1097.3 789.4,1077.9 793.6,1069 C797.8,1060.1 812.1,1038.9 816,1035 C819.9,1031.1 818.9,1036.7 823,1040 C827.1,1043.3 842,1054.5 846.5,1060 C851,1065.5 854.2,1083 856.9,1081 C859.6,1079 865.6,1049.8 866.9,1045 L866.7,1045.1 L867.3,1041 L868,1036.9 L868.6,1032.8 L869.3,1028.7 L869.9,1024.6 L870.6,1020.5 L871.2,1016.4 L871.8,1012.3 L872.5,1008.3 L873.1,1004.2 L873.8,1000.2 L874.4,996.2 L875.1,992.2 L875.7,988.1 L876.4,984.1 L877.1,980.1 L877.8,976.2 L878.5,972.2 L879.2,968.2 L879.9,964.2 L880.6,960.3 L881.3,956.3 L882.1,952.4 L882.9,948.5 L883.6,944.5 L884.4,940.6 L885.3,936.7 L886.1,932.8 L887,928.9 L887.8,925 L888.7,921.2 L889.7,917.3 L890.6,913.4 L891.6,909.6 L892.6,905.7 L893.6,901.9 L894.6,898.1 L895.7,894.3 L896.8,890.4 L898,886.6 L899.1,882.8 L900.3,879 L901.6,875.3 L902.8,871.5 L904.1,867.7 L905.5,864 L906.8,860.2 L908.3,856.5 L909.7,852.7 L911.2,849 L912.7,845.3 L914.3,841.5 L915.9,837.8 L917.6,834.1 L919.2,830.4 L921,826.7 L922.8,823 L924.6,819.4 L926.5,815.7 L928.4,812 L930.4,808.4 L932.4,804.7 L934.5,801.1 L936.7,797.5 L938.9,793.8 L941.1,790.2 L943.4,786.6 L945.7,783.1 L948.1,779.6 L950.6,776.1 L953.1,772.7 L955.7,769.3 L958.3,766 L961,762.7 L963.7,759.6 L966.5,756.5 L969.3,753.5 L972.2,750.5 L975.2,747.7 L978.2,745 L981.2,742.4 L984.3,739.9 L987.5,737.6 L990.7,735.4 L994,733.3 L997.4,731.3 L1000.8,729.5 L1004.2,727.9 L1007.7,726.4 L1011.3,725.1 L1014.9,724 L1018.6,723 L1022.4,722.3 L1026.1,721.7 L1030,721.3 L1033.8,721.1 L1037.7,721 L1041.6,721.2 L1045.5,721.5 L1049.4,722 L1053.2,722.7 L1057.1,723.5 L1060.9,724.5 L1064.7,725.7 L1068.4,727 L1072.1,728.6 L1075.7,730.3 L1079.3,732.1 L1082.8,734.1 L1086.2,736.3 L1089.6,738.5 L1092.8,741 L1096.1,743.5 L1099.2,746.1 L1102.3,748.9 L1105.4,751.7 L1108.3,754.7 L1111.2,757.7 L1114,760.8 L1116.8,764 L1119.4,767.3 L1122,770.5 L1124.6,773.9 L1127,777.3 L1129.4,780.7 L1131.7,784.1 L1134,787.6 L1136.2,791.1 L1138.3,794.7 L1140.4,798.3 L1142.4,801.9 L1144.4,805.5 L1146.3,809.1 L1148.2,812.8 L1150.1,816.4 L1151.9,820.1 L1153.7,823.8 L1155.4,827.5 L1157.1,831.2 L1158.8,834.9 L1160.5,838.6 L1162.1,842.3 L1163.7,846 L1165.3,849.7 L1166.9,853.4 L1168.5,857.1 L1170.1,860.7 L1171.7,864.4 L1173.3,868 L1174.9,871.7 L1176.5,875.3 L1178.1,878.8 L1179.7,882.4 L1181.3,885.9 L1183,889.4 L1182.4,889.5 L1182.5,895.3 L1183.4,900.3 L1185.1,904.5 L1187.3,908 L1190.1,910.9 L1193.4,913 L1197,914.5 L1201,915.4 L1205.1,915.7 L1209.3,915.4 L1213.5,914.5 L1217.7,913 L1221.7,911.1 L1225.5,908.6 L1229,905.6 L1232.1,902.2 L1234.6,898.3 L1235.4,899.6 L1237.9,896.6 L1240.5,893.6 L1243.2,890.6 L1246.1,887.7 L1249.2,884.9 L1252.3,882.1 L1255.6,879.4 L1259,876.9 L1262.4,874.4 L1266,872.1 L1269.7,870 L1273.4,868 L1277.2,866.1 L1281,864.5 L1284.9,863 L1288.9,861.8 L1292.9,860.7 L1296.9,859.9 L1300.9,859.2 L1304.9,858.8 L1308.9,858.6 L1312.9,858.6 L1316.8,858.8 L1320.7,859.3 L1324.6,859.9 L1328.4,860.8 L1332.1,861.9 L1335.7,863.2 L1339.3,864.7 L1342.7,866.4 L1346,868.4 L1349.2,870.5 L1352.3,872.9 L1355.2,875.4 L1358.1,878.1 L1360.7,880.9 L1363.3,883.9 L1365.7,887 L1368,890.2 L1370.2,893.6 L1372.2,897 L1374.2,900.6 L1376,904.2 L1377.8,907.9 L1379.4,911.7 L1381,915.6 L1382.5,919.5 L1383.8,923.5 L1385.2,927.6 L1386.4,931.7 L1387.6,935.8 L1388.7,939.9 L1389.7,944.1 L1390.7,948.3 L1391.7,952.4 L1392.6,956.6 L1393.4,960.8 L1394.3,964.9 L1395.1,969 L1395.8,973.1 L1396.6,977.1 L1397.3,981.1 L1398,985.1 L1398.7,989.1 L1399.3,993 L1400,996.9 L1400.6,1000.8 L1401.1,1004.7 L1401.7,1008.6 L1402.2,1012.5 L1402.6,1016.4 L1403.1,1020.3 L1403.5,1024.2 L1403.9,1028.1 L1404.2,1032 L1404.6,1035.9 L1404.8,1039.9 L1405.1,1043.8 L1405.3,1047.8 L1405.5,1051.9 L1405.6,1055.9 L1405.7,1060 L1405.8,1064.2 L1405.9,1068.4 L1405.9,1072.6 L1405.8,1076.9 L1405.7,1081.2" stroke="#0000FF" stroke-width="3.2" fill="none" stroke-linejoin="round"/>
<polygon points="772.2,1090.6 797.2,1090.6 784.7,1112.6" fill="#0000FF"/>
<polygon points="781.1,1058 806.1,1058 793.6,1080" fill="#0000FF"/>
<polygon points="803.5,1024 828.5,1024 816,1046" fill="#0000FF"/>
<polygon points="810.5,1031 835.5,1031 823,1053" fill="#0000FF"/>
<polygon points="834,1049 859,1049 846.5,1071" fill="#0000FF"/>
<polygon points="844.4,1070 869.4,1070 856.9,1092" fill="#0000FF"/>
<polygon points="854.4,1034 879.4,1034 866.9,1056" fill="#0000FF"/>
<polygon points="869,940 894,940 881.5,962" fill="#0000FF"/>
<polygon points="927.4,781.3 952.4,781.3 939.9,803.3" fill="#0000FF"/>
<polygon points="1074.9,726.3 1099.9,726.3 1087.4,748.3" fill="#0000FF"/>
<polygon points="1171.7,883.3 1196.7,883.3 1184.2,905.3" fill="#0000FF"/>
<polygon points="1220.5,895 1245.5,895 1233,917" fill="#0000FF"/>
<polygon points="1355.4,879 1380.4,879 1367.9,901" fill="#0000FF"/>
<polygon points="1393.2,1070 1418.2,1070 1405.7,1092" fill="#0000FF"/>
<rect x="1394.3" y="586.9" width="124.4" height="180.2" fill="none" stroke="#808080" stroke-width="3"/>
<line x1="1399.5" y1="621.2" x2="1465.6" y2="621.2" stroke="#000" stroke-width="4"/>
<rect x="1423.4" y="611" width="17.5" height="20" fill="#000"/>
<text transform="translate(1471.40,631.00) scale(0.8438,1)" font-size="35.73">N</text>
<line x1="1399.5" y1="663.6" x2="1465.6" y2="663.6" stroke="#FF0000" stroke-width="4"/>
<circle cx="1432" cy="663.6" r="9.3" fill="#FF0000"/>
<text transform="translate(1471.67,673.70) scale(0.9402,1)" font-size="35.30">A</text>
<line x1="1399.5" y1="706.2" x2="1465.6" y2="706.2" stroke="#00FF00" stroke-width="4"/>
<polygon points="1432.2,693.3 1444.8,714.1 1419.6,714.1" fill="#00FF00"/>
<text transform="translate(1471.38,715.90) scale(1.0214,1)" font-size="34.66">P</text>
<line x1="1399.5" y1="749.6" x2="1465.6" y2="749.6" stroke="#0000FF" stroke-width="4"/>
<polygon points="1419.6,741.8 1444.8,741.8 1432.2,763.2" fill="#0000FF"/>
<text transform="translate(1471.43,759.30) scale(0.9155,1)" font-size="35.57">P</text>
<text transform="translate(1492.49,759.30) scale(0.8839,1)" font-size="35.30">A</text>
<rect x="1708" y="100.5" width="274.4" height="339" fill="none" stroke="#111" stroke-width="4"/>
<line x1="1725.2" y1="162.1" x2="1779.2" y2="162.1" stroke="#000" stroke-width="10.5"/>
<line x1="1822.6" y1="162.1" x2="1877.7" y2="162.1" stroke="#000" stroke-width="10.5"/>
<rect x="1785.8" y="146.8" width="30.5" height="30.5" fill="#000"/>
<text transform="translate(1888.28,183.30) scale(0.9470,1)" font-size="64.58">N</text>
<line x1="1725.2" y1="243.1" x2="1779.2" y2="243.1" stroke="#FF0000" stroke-width="10.5"/>
<line x1="1822.6" y1="243.1" x2="1877.7" y2="243.1" stroke="#FF0000" stroke-width="10.5"/>
<circle cx="1802.2" cy="242.6" r="16.4" fill="#FF0000"/>
<text transform="translate(1888.87,264.20) scale(0.9341,1)" font-size="67.58">A</text>
<line x1="1725.2" y1="322.9" x2="1779.2" y2="322.9" stroke="#00FF00" stroke-width="10.5"/>
<line x1="1822.6" y1="322.9" x2="1877.7" y2="322.9" stroke="#00FF00" stroke-width="10.5"/>
<polygon points="1802.1,299.4 1822.6,335.8 1781.6,335.8" fill="#00FF00"/>
<text transform="translate(1888.37,344.70) scale(1.0119,1)" font-size="63.66">P</text>
<line x1="1725.2" y1="402.7" x2="1779.2" y2="402.7" stroke="#0000FF" stroke-width="10.5"/>
<line x1="1822.6" y1="402.7" x2="1877.7" y2="402.7" stroke="#0000FF" stroke-width="10.5"/>
<polygon points="1781.6,391 1822.6,391 1802.1,427.2" fill="#0000FF"/>
<text transform="translate(1888.37,424.50) scale(0.9836,1)" font-size="65.50">P</text>
<text transform="translate(1928.77,424.50) scale(0.9733,1)" font-size="65.00">A</text>
<path d="M207.3,1157.8H267.9 M286.5,1157.8H341.7 M362.8,1157.8H417 M435.9,1157.8H493.5 M512.3,1157.8H566.6 M587.6,1157.8H643 M211.9,1153.3V1176.5 M211.9,1196.3V1250.5 M211.9,1272.7V1325.8 M211.9,1345.8V1400.3 M216.4,1415.7H271.1 M292,1415.7H347 M368.7,1415.7H422 M442.3,1415.7H497.2 M518.9,1415.7H572.3 M594,1415.7H643 M638.6,1181V1237.4 M638.6,1257.8V1311.5 M638.6,1332.8V1387.4 M638.6,1406V1419 M643,526.7H716 M743.4,526.7H816.4 M843.8,526.7H916.8 M944.2,526.7H1017.2 M1044.6,526.7H1117.6 M1145,526.7H1218 M1245.4,526.7H1318.4 M1345.8,526.7H1418.8 M1446.2,526.7H1519.2 M1546.6,526.7H1569 M634,1258.7H716.3 M743.8,1258.7H816.2 M843.7,1258.7H916.2 M943.7,1258.7H1016.2 M1043.6,1258.7H1116.1 M1143.6,1258.7H1216.1 M1243.5,1258.7H1316 M1343.5,1258.7H1416 M1443.4,1258.7H1515.9 M1543.4,1258.7H1569 M1564.9,522.5V578 M1564.9,607V680 M1564.9,707V780 M1564.9,807V880 M1564.9,907V980 M1564.9,1007V1080 M1564.9,1107V1180 M1564.9,1207V1262.9 M647.5,555.6V628.6 M647.5,656V729 M647.5,756.4V829.4 M647.5,856.8V929.8 M647.5,957.2V1030.2 M647.5,1057.6V1130.6 M647.5,1158V1231" stroke="#FFD966" stroke-width="8.7" fill="none"/>
<path d="M252.8,220H301 M348,220H384 M384,165.3H423 M473.2,165.3H511.4 M384,165.3V265.8H439 M454,265.8H511.4V165.3 M439,254.2V280.7 M454,254.2V280.7 M511.4,219.7H530.7 M530.7,165.5H569.9 M620.1,165.5H658 M530.7,165.5V265.8H586.6 M600,265.8H658V165.5 M586.6,253.6V281.4 M600,253.6V281.4 M658,219.7H677.5 M677.5,165.5H718.5 M768.7,165.5H804.5 M677.5,165.5V265.8H733 M748,265.8H804.5V165.5 M733,253.6V281.4 M748,253.6V281.4 M804.5,218.6H837.9" stroke="#000" stroke-width="6.3" fill="none" stroke-linejoin="miter"/>
<path d="M298.5,220 L302.5,208.3 L305.1,208.3 L309.7,229.3 L312.3,229.3 L318.7,208.3 L321.3,208.3 L327.7,229.3 L330.3,229.3 L336.8,208.3 L339.4,208.3 L345.8,229.3 L348.4,229.3 L350.5,220 M420.5,165.3 L424.8,156.1 L427.4,156.1 L434.5,177.2 L437.1,177.2 L443.3,156.1 L445.9,156.1 L452.6,177.2 L455.2,177.2 L461.4,156.1 L464,156.1 L469.7,177.2 L472.3,177.2 L475.7,165.3 M567.4,165.5 L571.7,155.6 L574.3,155.6 L581.4,177.2 L584,177.2 L590.2,155.6 L592.8,155.6 L599.5,177.2 L602.1,177.2 L608.3,155.6 L610.9,155.6 L616.6,177.2 L619.2,177.2 L622.6,165.5 M716,165.5 L720.3,155.6 L722.9,155.6 L730,177.2 L732.6,177.2 L738.8,155.6 L741.4,155.6 L748.1,177.2 L750.7,177.2 L756.9,155.6 L759.5,155.6 L765.2,177.2 L767.8,177.2 L771.2,165.5" stroke="#000" stroke-width="6.2" fill="none" stroke-linejoin="miter"/>
<path d="M510.6,162.5V268.8 M677.8,162.5V268.8" stroke="#000" stroke-width="8.2" fill="none"/>
<text transform="translate(291.29,186.00) scale(0.8115,1)" font-size="63.82">R</text>
<text transform="translate(333.13,198.80) scale(1.0966,1)" font-size="41.21">S</text>
<text transform="translate(395.62,131.40) scale(0.8819,1)" font-size="63.82">R</text>
<text transform="translate(438.38,143.40) scale(0.9357,1)" font-size="44.12">PT</text>
<text transform="translate(560.42,130.60) scale(0.9749,1)" font-size="63.05">R</text>
<text transform="translate(605.50,143.70) scale(0.9591,1)" font-size="41.98">K</text>
<text transform="translate(706.27,130.60) scale(0.9371,1)" font-size="63.05">R</text>
<text transform="translate(749.58,143.70) scale(0.9782,1)" font-size="41.98">D</text>
<text transform="translate(378.73,327.50) scale(0.9680,1)" font-size="56.00">CPE1</text>
<text transform="translate(527.67,327.00) scale(1.0059,1)" font-size="54.94">CPE2</text>
<text transform="translate(676.92,327.00) scale(0.9893,1)" font-size="54.94">CPE3</text>
</svg></body></html>
